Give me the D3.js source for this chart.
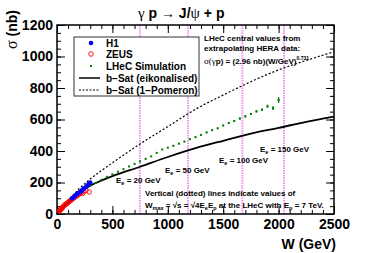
<!DOCTYPE html>
<html>
<head>
<meta charset="utf-8">
<script src="https://cdn.jsdelivr.net/npm/d3@7"></script>
<style>
  body { margin: 0; background: #fff; }
  svg { display: block; }
  text { font-family: "Liberation Sans", Arial, Helvetica, sans-serif; font-weight: bold; }
  .greek { font-family: "Liberation Serif", "DejaVu Serif", serif; font-weight: normal; }
</style>
</head>
<body>
<div id="chart"></div>
<script>
// values
var h1W = [135, 150, 165, 180, 195, 210, 225, 240, 255, 270, 285, 300],
  h1Sigma = [100, 105, 118, 125, 135, 140, 150, 160, 168, 178, 190, 200];

var zeusW = [20, 25, 30, 35, 40, 45, 50, 60, 70, 80, 90, 100, 110, 120, 130, 140, 150, 160, 170, 180, 190, 200, 210, 220, 230, 240, 260, 290],
  zeusSigma = [18, 22, 28, 30, 35, 38, 42, 50, 57, 62, 68, 72, 80, 85, 90, 97, 102, 108, 112, 118, 122, 128, 133, 138, 130, 145, 150, 140];

var lhecW = [300, 350, 400, 450, 500, 550, 600, 650, 700, 750, 800, 850, 900, 950, 1000, 1050, 1100, 1150,
    1200, 1250, 1300, 1350, 1400, 1450, 1500, 1550, 1600, 1650, 1700, 1750, 1800, 1850, 1900, 1950, 2000],
  lhecSigma = [180, 198, 217, 236, 252, 268, 285, 302, 318, 334, 350, 366, 388, 410, 421, 433, 447, 460,
    475, 488, 502, 518, 532, 544, 562, 578, 590, 606, 620, 635, 652, 662, 684, 672, 724],
  lhecErr = [2, 2, 2, 2, 2, 2, 2, 2, 3, 3, 3, 3, 3, 3, 3, 3, 4, 4,
    4, 4, 4, 5, 5, 5, 5, 6, 6, 6, 7, 7, 8, 8, 10, 12, 18];

var curveW = [0, 50, 100, 200, 300, 400, 500, 750, 1000, 1250, 1500, 1750, 2000, 2250, 2500],
  eikonal = [0, 38, 72, 135, 180, 212, 240, 300, 362, 418, 465, 510, 547, 585, 618],
  pomeron = [0, 48, 85, 160, 222, 275, 325, 445, 555, 665, 755, 840, 915, 975, 1030];

var wMax = [748, 1183, 1673, 2049],
  eBeam = ['20 GeV', '50 GeV', '100 GeV', '150 GeV'];

var xTicks = [0, 500, 1000, 1500, 2000, 2500],
  yTicks = [0, 200, 400, 600, 800, 1000, 1200];

var width = 374, height = 253;

var svg = d3.select('#chart').append('svg')
  .attr('width', width).attr('height', height);

var x = d3.scaleLinear().domain([0, 2500]).range([57, 334]),
  y = d3.scaleLinear().domain([0, 1200]).range([214, 25]);

// vertical dotted lines for W_max
svg.append('g')
  .selectAll('line')
  .data(wMax)
  .enter()
  .append('line')
  .attr('x1', function (d) { return x(d); })
  .attr('x2', function (d) { return x(d); })
  .attr('y1', y(1200))
  .attr('y2', y(0))
  .style('stroke', '#f490f4')
  .style('stroke-width', 2)
  .style('stroke-dasharray', '1.5,1');

// axes, ROOT style ticks pointing in
function axisGroup(axis, tx, ty) {
  var g = svg.append('g').attr('transform', 'translate(' + tx + ',' + ty + ')').call(axis);
  g.select('.domain').remove();
  g.selectAll('line').style('stroke', '#000').style('stroke-width', 1);
  g.selectAll('text').style('font-size', '14px').style('font-family', null).attr('fill', '#000');
  return g;
}

var xMinor = d3.range(0, 2501, 100),
  yMinor = d3.range(0, 1201, 50),
  fmt = d3.format('d');

axisGroup(d3.axisBottom(x).tickValues(xMinor).tickSize(-4).tickFormat(''), 0, 214);
axisGroup(d3.axisBottom(x).tickValues(xTicks).tickSize(-8).tickPadding(5).tickFormat(fmt), 0, 214);
axisGroup(d3.axisTop(x).tickValues(xMinor).tickSize(-4).tickFormat(''), 0, 25);
axisGroup(d3.axisTop(x).tickValues(xTicks).tickSize(-8).tickFormat(''), 0, 25);
axisGroup(d3.axisLeft(y).tickValues(yMinor).tickSize(-4).tickFormat(''), 57, 0);
axisGroup(d3.axisLeft(y).tickValues(yTicks).tickSize(-8).tickPadding(4).tickFormat(fmt), 57, 0);
axisGroup(d3.axisRight(y).tickValues(yMinor).tickSize(-4).tickFormat(''), 334, 0);
axisGroup(d3.axisRight(y).tickValues(yTicks).tickSize(-8).tickFormat(''), 334, 0);

svg.append('rect')
  .attr('x', x(0)).attr('y', y(1200))
  .attr('width', x(2500) - x(0)).attr('height', y(0) - y(1200))
  .style('fill', 'none').style('stroke', '#000').style('stroke-width', 1.5);

// curves
var line = d3.line()
  .x(function (d) { return x(d[0]); })
  .y(function (d) { return y(d[1]); })
  .curve(d3.curveMonotoneX);

svg.append('path')
  .datum(d3.zip(curveW, pomeron))
  .attr('d', line)
  .style('fill', 'none').style('stroke', '#000').style('stroke-width', 1.2)
  .style('stroke-dasharray', '2,2');

svg.append('path')
  .datum(d3.zip(curveW, eikonal))
  .attr('d', line)
  .style('fill', 'none').style('stroke', '#000').style('stroke-width', 1.8);

// LHeC simulation points
var lhec = svg.append('g');
lhec.selectAll('line')
  .data(d3.range(lhecW.length))
  .enter()
  .append('line')
  .attr('x1', function (i) { return x(lhecW[i]); })
  .attr('x2', function (i) { return x(lhecW[i]); })
  .attr('y1', function (i) { return y(lhecSigma[i] - lhecErr[i]); })
  .attr('y2', function (i) { return y(lhecSigma[i] + lhecErr[i]); })
  .style('stroke', '#008000').style('stroke-width', 1.4);
lhec.selectAll('rect')
  .data(d3.range(lhecW.length))
  .enter()
  .append('rect')
  .attr('x', function (i) { return x(lhecW[i]) - 1; })
  .attr('y', function (i) { return y(lhecSigma[i]) - 1; })
  .attr('width', 2).attr('height', 2)
  .style('fill', '#008000');

// HERA data
svg.append('g')
  .selectAll('circle')
  .data(d3.zip(zeusW, zeusSigma))
  .enter()
  .append('circle')
  .attr('cx', function (d) { return x(d[0]); })
  .attr('cy', function (d) { return y(d[1]); })
  .attr('r', 2.3)
  .style('fill', 'none').style('stroke', '#ff0000').style('stroke-width', 0.9);

svg.append('g')
  .selectAll('circle')
  .data(d3.zip(h1W, h1Sigma))
  .enter()
  .append('circle')
  .attr('cx', function (d) { return x(d[0]); })
  .attr('cy', function (d) { return y(d[1]); })
  .attr('r', 2.3)
  .style('fill', '#0000ff');

// E_e labels
var eePos = [[116, 183], [165, 173], [219, 163], [260, 152]];
eBeam.forEach(function (lab, i) {
  var t = svg.append('text')
    .attr('x', eePos[i][0]).attr('y', eePos[i][1])
    .style('font-size', '8px');
  t.append('tspan').text('E');
  t.append('tspan').attr('dy', 2).style('font-size', '5.5px').text('e');
  t.append('tspan').attr('dy', -2).text(' = ' + lab);
});

// explanatory text
svg.append('text').attr('x', 145).attr('y', 196).style('font-size', '8px')
  .text('Vertical (dotted) lines indicate values of');
var wt = svg.append('text').attr('x', 145).attr('y', 208).style('font-size', '8px');
wt.append('tspan').text('W');
wt.append('tspan').attr('dy', 2).style('font-size', '5.5px').text('max');
wt.append('tspan').attr('dy', -2).text(' = \u221As = \u221A4E');
wt.append('tspan').attr('dy', 2).style('font-size', '5.5px').text('e');
wt.append('tspan').attr('dy', -2).text('E');
wt.append('tspan').attr('dy', 2).style('font-size', '5.5px').text('p');
wt.append('tspan').attr('dy', -2).text(' at the LHeC with E');
wt.append('tspan').attr('dy', 2).style('font-size', '5.5px').text('p');
wt.append('tspan').attr('dy', -2).text(' = 7 TeV.');

svg.append('text').attr('x', 204).attr('y', 41).style('font-size', '8px')
  .text('LHeC central values from');
svg.append('text').attr('x', 204).attr('y', 51).style('font-size', '8px')
  .text('extrapolating HERA data:');
var ft = svg.append('text').attr('x', 204).attr('y', 64).style('font-size', '8px');
ft.append('tspan').attr('class', 'greek').style('font-size', '9px').text('\u03C3(\u03B3');
ft.append('tspan').text('p) = (2.96 nb)(W/GeV)');
ft.append('tspan').attr('dy', -4).style('font-size', '5px').text('0.731');

// legend
var lg = svg.append('g');
lg.append('rect')
  .attr('x', 74).attr('y', 37).attr('width', 125).attr('height', 59)
  .style('fill', '#fff').style('stroke', '#333').style('stroke-width', 1);
var legRows = [43, 54, 66, 78, 90],
  legText = ['H1', 'ZEUS', 'LHeC Simulation', 'b\u2212Sat (eikonalised)', 'b\u2212Sat (1\u2212Pomeron)'];
legText.forEach(function (t, i) {
  lg.append('text').attr('x', 106).attr('y', legRows[i] + 3.5)
    .style('font-size', '10px').text(t);
});
lg.append('circle').attr('cx', 91).attr('cy', legRows[0]).attr('r', 2.3).style('fill', '#0000ff');
lg.append('circle').attr('cx', 91).attr('cy', legRows[1]).attr('r', 2.3)
  .style('fill', 'none').style('stroke', '#ff0000').style('stroke-width', 0.9);
lg.append('rect').attr('x', 90).attr('y', legRows[2] - 1).attr('width', 2).attr('height', 2).style('fill', '#008000');
lg.append('line').attr('x1', 79).attr('x2', 100).attr('y1', legRows[3]).attr('y2', legRows[3])
  .style('stroke', '#000').style('stroke-width', 1.5);
lg.append('line').attr('x1', 79).attr('x2', 100).attr('y1', legRows[4]).attr('y2', legRows[4])
  .style('stroke', '#000').style('stroke-width', 1.1).style('stroke-dasharray', '2,1.5');

// title
var title = svg.append('text').attr('x', 138).attr('y', 18).style('font-size', '14px');
title.append('tspan').attr('class', 'greek').style('font-size', '15px').text('\u03B3');
title.append('tspan').text(' p \u2192 J/');
title.append('tspan').attr('class', 'greek').style('font-size', '15px').text('\u03C8');
title.append('tspan').text(' + p');

// axis titles
var yl = svg.append('text')
  .attr('transform', 'translate(17,10) rotate(-90)')
  .attr('text-anchor', 'end')
  .style('font-size', '14px');
yl.append('tspan').attr('class', 'greek').style('font-size', '16px').text('\u03C3');
yl.append('tspan').text(' (nb)');

svg.append('text').attr('x', 336).attr('y', 249).attr('text-anchor', 'end')
  .style('font-size', '14px').text('W  (GeV)');
</script>
</body>
</html>
